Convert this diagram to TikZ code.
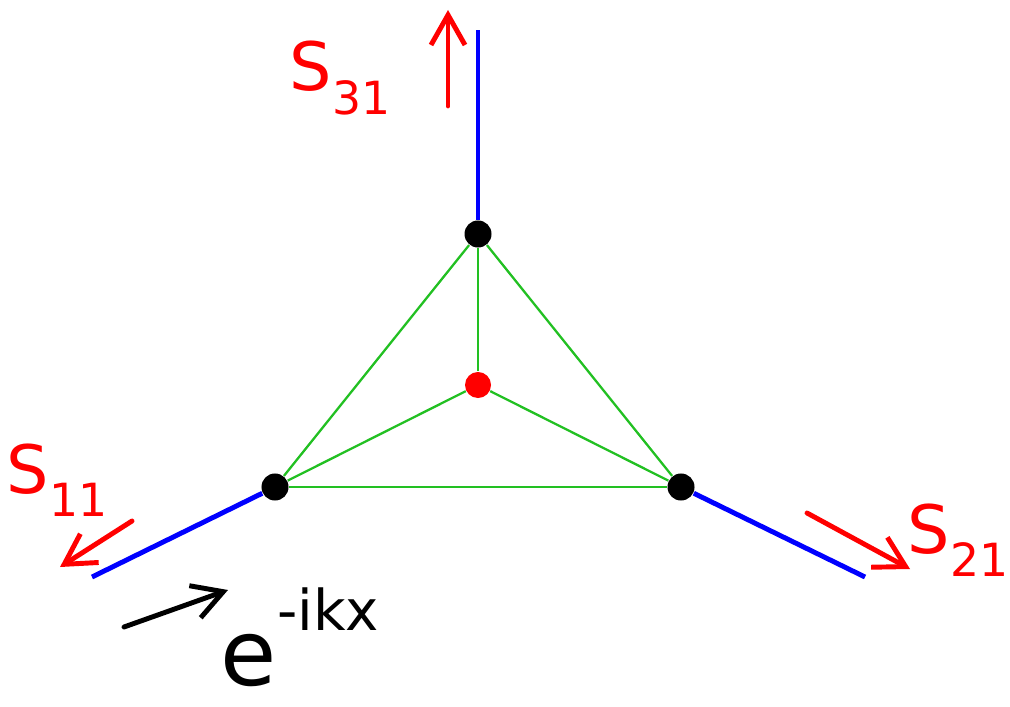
\documentclass[tikz,border=0pt]{standalone}
\usepackage{fontspec}
\setsansfont{DejaVu Sans}
\usetikzlibrary{arrows.meta,positioning}
\definecolor{leadblue}{HTML}{0000FF}
\definecolor{wiregreen}{HTML}{22C022}
\definecolor{fluxred}{HTML}{FF0000}
\newcommand{\lowidx}[1]{\raisebox{-0.35em}{\fontsize{13}{15}\selectfont #1}}
\newcommand{\highidx}[1]{\raisebox{0.6em}{\fontsize{16}{18}\selectfont #1}}

\begin{document}
\begin{tikzpicture}[
  x=0.01cm, y=-0.01cm,
  vert/.style={circle, fill=black, inner sep=0pt, minimum size=0.27cm},
  centre/.style={circle, fill=fluxred, inner sep=0pt, minimum size=0.26cm},
  lead/.style={leadblue, line width=1.4pt},
  wire/.style={wiregreen, line width=0.65pt},
  flux/.style={-{Straight Barb[length=3mm,width=3.4mm]}, fluxred, line width=1.4pt, line cap=round},
  wave/.style={-{Straight Barb[length=3mm,width=3.4mm]}, black, line width=1.4pt, line cap=round},
  lab/.style={fluxred, font=\fontsize{19}{22}\selectfont\sffamily, inner sep=0pt}
]
\useasboundingbox (0,0) rectangle (1010,707);

% graph vertices
\node[vert] (top) at (478,234) {};
\node[vert] (left) at (275,487) {};
\node[vert] (right) at (681,487) {};
\node[centre] (mid) at (478,385) {};

% free ends of the leads
\coordinate (topend) at (478,30);
\coordinate (leftend) at (92,577);
\coordinate (rightend) at (865,577);

% green bonds
\draw[wire] (top)--(left); \draw[wire] (top)--(right); \draw[wire] (left)--(right);
\draw[wire] (top)--(mid); \draw[wire] (left)--(mid); \draw[wire] (right)--(mid);

% blue leads
\draw[lead] (top)--(topend);
\draw[lead] (left)--(leftend);
\draw[lead] (right)--(rightend);

% scattering arrows
\coordinate (a3s) at (448,106); \coordinate (a3e) at (448,10);
\coordinate (a1s) at (132,521); \coordinate (a1e) at (60,567);
\coordinate (a2s) at (807,513); \coordinate (a2e) at (910,569);
\coordinate (ins) at (124,627); \coordinate (ine) at (228,590);
\draw[flux] (a3s)--(a3e);
\draw[flux] (a1s)--(a1e);
\draw[flux] (a2s)--(a2e);
\draw[wave] (ins)--(ine);

% labels
\node[lab] (s31) at (340,78) {S\lowidx{31}};
\node[lab] (s11) at (57,480) {S\lowidx{11}};
\node[lab] (s21) at (958,540) {S\lowidx{21}};
\node[font=\fontsize{26}{30}\selectfont\sffamily, inner sep=0pt] (inc) at (300,637) {e\highidx{-ikx}};
\end{tikzpicture}
\end{document}
